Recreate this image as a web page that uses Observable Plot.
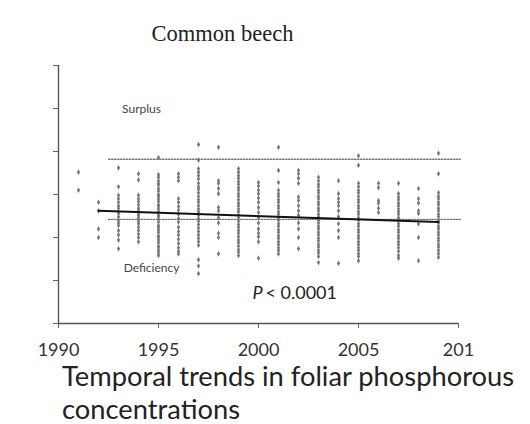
<!DOCTYPE html>
<html>
<head>
<meta charset="utf-8">
<script src="https://cdn.jsdelivr.net/npm/d3@7"></script>
<script src="https://cdn.jsdelivr.net/npm/@observablehq/plot@0.6"></script>
<style>
  html, body { margin: 0; padding: 0; background: #fff; }
  #wrap { position: relative; width: 530px; height: 424px; overflow: hidden; background: #fff; }
  #title { position: absolute; left: 0; width: 445px; top: 21px; text-align: center;
           font-family: "Liberation Serif", "DejaVu Serif", serif; font-size: 22.5px; line-height: 26px; color: #222; }
  #chart { position: absolute; left: 0; top: 0; }
  .cap { position: absolute; left: 62px; width: 468px; white-space: nowrap;
         font-family: Lato, "Open Sans", sans-serif; font-size: 27.3px; line-height: 28px; color: #222; }
  #cap1 { top: 362px; }
  #cap2 { top: 395px; }
</style>
</head>
<body>
<div id="wrap">
  <div id="chart"></div>
  <div id="title">Common beech</div>
  <div class="cap" id="cap1">Temporal trends in foliar phosphorous</div>
  <div class="cap" id="cap2">concentrations</div>
</div>
<script>
// ---- data (foliar P, arbitrary axis units) ----
const p1991 = [1.76, 1.55];
const p1992 = [1.41, 1.31, 1.10, 1.00];
const p1993 = [1.81, 1.59, 1.49, 1.45, 1.41, 1.37, 1.34, 1.30, 1.28, 1.24, 1.20, 1.17, 1.14, 1.08, 1.03, 0.97, 0.87];
const p1994 = [1.74, 1.67, 1.49, 1.45, 1.42, 1.38, 1.34, 1.31, 1.27, 1.25, 1.22, 1.19, 1.16, 1.12, 1.08, 1.04, 1.00, 0.95];
const p1995 = [1.93, 1.73, 1.70, 1.66, 1.63, 1.61, 1.57, 1.54, 1.50, 1.48, 1.45, 1.42, 1.38, 1.36, 1.33, 1.30, 1.26, 1.24, 1.21, 1.18, 1.14, 1.12, 1.09, 1.06, 1.02, 1.00, 0.97, 0.94, 0.90, 0.88, 0.85, 0.82, 0.79];
const p1996 = [1.74, 1.70, 1.66, 1.45, 1.41, 1.36, 1.32, 1.27, 1.22, 1.18, 1.12, 1.07, 1.03, 0.98, 0.93, 0.88, 0.84, 0.81];
const p1997 = [2.08, 1.90, 1.80, 1.76, 1.72, 1.68, 1.63, 1.59, 1.56, 1.52, 1.48, 1.44, 1.41, 1.37, 1.33, 1.30, 1.26, 1.22, 1.19, 1.15, 1.11, 1.07, 1.03, 0.99, 0.95, 0.91, 0.74, 0.67, 0.58];
const p1998 = [2.05, 1.66, 1.63, 1.57, 1.51, 1.35, 1.31, 1.23, 1.17, 1.05, 1.00, 0.81];
const p1999 = [1.80, 1.76, 1.72, 1.69, 1.65, 1.62, 1.58, 1.55, 1.51, 1.48, 1.44, 1.40, 1.37, 1.33, 1.30, 1.26, 1.23, 1.19, 1.15, 1.12, 1.08, 1.05, 1.01, 0.97, 0.94, 0.90, 0.86, 0.83, 0.79];
const p2000 = [1.64, 1.60, 1.55, 1.51, 1.46, 1.41, 1.35, 1.29, 1.23, 1.17, 1.10, 1.05, 1.01, 0.95, 0.76];
const p2001 = [2.05, 1.78, 1.64, 1.55, 1.51, 1.48, 1.44, 1.41, 1.37, 1.34, 1.30, 1.27, 1.23, 1.20, 1.16, 1.13, 1.09, 1.06, 1.02, 0.99, 0.95, 0.92, 0.88, 0.85, 0.81];
const p2002 = [1.78, 1.74, 1.69, 1.63, 1.47, 1.43, 1.37, 1.31, 1.26, 1.17, 1.10, 1.00, 0.87];
const p2003 = [1.70, 1.66, 1.62, 1.59, 1.55, 1.52, 1.48, 1.45, 1.41, 1.38, 1.34, 1.31, 1.27, 1.24, 1.20, 1.17, 1.13, 1.10, 1.06, 1.03, 0.99, 0.96, 0.92, 0.89, 0.85, 0.82, 0.78, 0.71];
const p2004 = [1.66, 1.51, 1.45, 1.41, 1.37, 1.31, 1.24, 1.16, 1.08, 1.00, 0.70];
const p2005 = [1.95, 1.84, 1.63, 1.59, 1.55, 1.52, 1.48, 1.44, 1.41, 1.37, 1.34, 1.30, 1.27, 1.23, 1.20, 1.16, 1.13, 1.09, 1.06, 1.02, 0.99, 0.95, 0.92, 0.88, 0.85, 0.81, 0.78, 0.73];
const p2006 = [1.63, 1.58, 1.43, 1.40, 1.34, 1.29];
const p2007 = [1.63, 1.51, 1.47, 1.44, 1.40, 1.37, 1.33, 1.30, 1.27, 1.23, 1.20, 1.16, 1.13, 1.09, 1.06, 1.02, 0.99, 0.95, 0.92, 0.88, 0.84, 0.79, 0.76];
const p2008 = [1.57, 1.45, 1.40, 1.31, 1.28, 1.16, 1.00, 0.73];
const p2009 = [1.98, 1.74, 1.52, 1.48, 1.45, 1.41, 1.38, 1.34, 1.31, 1.27, 1.24, 1.20, 1.17, 1.13, 1.10, 1.06, 1.03, 0.99, 0.96, 0.92, 0.89, 0.85, 0.81, 0.77];

const years = [1991, 1992, 1993, 1994, 1995, 1996, 1997, 1998, 1999, 2000,
               2001, 2002, 2003, 2004, 2005, 2006, 2007, 2008, 2009];
const columns = [p1991, p1992, p1993, p1994, p1995, p1996, p1997, p1998, p1999, p2000,
                 p2001, p2002, p2003, p2004, p2005, p2006, p2007, p2008, p2009];

const trendYears = [1992, 2009];
const trendValues = [1.31, 1.18];
const surplusLevel = 1.91;
const deficiencyLevel = 1.21;
const thresholdSpan = [1992.5, 2010.1];

const xTicks = [1990, 1995, 2000, 2005, 2010];
const xTickLabels = ["1990", "1995", "2000", "2005", "201"];
const yTicks = [0, 0.5, 1, 1.5, 2, 2.5, 3];

const annotations = [
  {text: "Surplus", year: 1994.15, value: 2.49},
  {text: "Deficiency", year: 1994.65, value: 0.64}
];
const pNote = {year: 1999.7, value: 0.35};

// ---- build tables ----
const points = years.flatMap((yr, i) => columns[i].map(v => ({year: yr, value: v})));
const trend = trendYears.map((yr, i) => ({year: yr, value: trendValues[i]}));
const thresholds = [surplusLevel, deficiencyLevel].flatMap(lv =>
  thresholdSpan.map(yr => ({year: yr, value: lv, level: lv})));

const chart = Plot.plot({
  width: 530,
  height: 360,
  marginLeft: 58,
  marginRight: 72,
  marginTop: 65,
  marginBottom: 37,
  style: {background: "transparent", fontFamily: "Lato, 'Open Sans', sans-serif"},
  x: {domain: [1990, 2010]},
  y: {domain: [0, 3]},
  marks: [
    Plot.axisY({ticks: yTicks, tickFormat: () => "", tickSize: 5, stroke: "#666", label: null}),
    Plot.axisX({ticks: xTicks, tickFormat: (d) => xTickLabels[xTicks.indexOf(d)], tickSize: 5,
                tickPadding: 15, fontSize: 18, fill: "#333", stroke: "#666", label: null}),
    Plot.ruleX([1990], {y1: 0, y2: 3, stroke: "#555", strokeWidth: 1.4}),
    Plot.ruleY([0], {x1: 1990, x2: 2010, stroke: "#555", strokeWidth: 1.4}),
    Plot.dot(points, {x: "year", y: "value", r: 1.7, symbol: "diamond", fill: "#777", stroke: "none"}),
    Plot.line(thresholds, {x: "year", y: "value", z: "level", stroke: "#777", strokeWidth: 1.3, strokeDasharray: "1.5,1.5"}),
    Plot.line(trend, {x: "year", y: "value", stroke: "#111", strokeWidth: 2}),
    Plot.text(annotations, {x: "year", y: "value", text: "text", fontSize: 12, fill: "#444"}),
    Plot.text([pNote], {x: "year", y: "value", text: () => "P", fontSize: 18, fontStyle: "italic", fill: "#222", textAnchor: "start"}),
    Plot.text([pNote], {x: "year", y: "value", text: () => "< 0.0001", dx: 13, fontSize: 18, fill: "#222", textAnchor: "start"})
  ]
});
document.getElementById("chart").appendChild(chart);
</script>
</body>
</html>
